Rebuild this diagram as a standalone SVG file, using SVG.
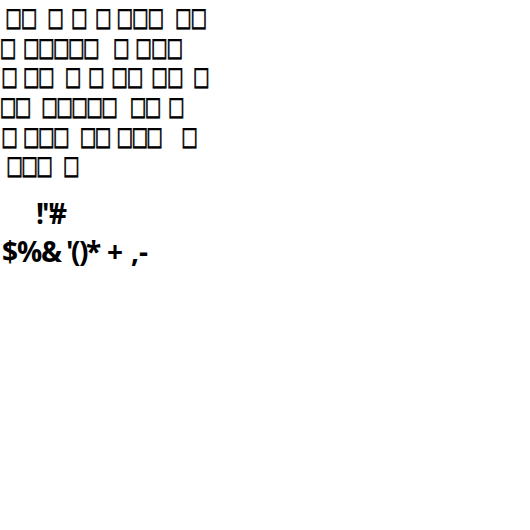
<svg xmlns="http://www.w3.org/2000/svg" width="530" height="530" viewBox="0 0 530 530">
<style>
.t{font-family:"DejaVu Sans",sans-serif;font-size:26px;fill:#000;stroke:#000;stroke-width:0.8;white-space:pre}
.b{font-family:"Open Sans","Noto Sans",sans-serif;font-weight:bold;font-size:28px;fill:#000}
</style>
<rect width="530" height="530" fill="#fff"/>
<g id="para" transform="scale(0.67,1)">
<text class="t" y="26.5" x="8 30.8 56 70.7 96 106.1 131 141.9 167 174 197.1 220.2 246 261.3 284.4">□□ □ □ □ □□□ □□</text>
<text class="t" y="56" x="-0.4 24 34.4 56.8 79.2 101.6 124 150 168.7 194 202 225.4 248.6">□ □□□□□ □ □□□</text>
<text class="t" y="85.5" x="2 26 34.4 56.8 82 96.6 121 131.4 156 166.2 189.3 215 225.9 249.3 275 288.1">□ □□ □ □ □□ □□ □</text>
<text class="t" y="115" x="-0.4 22 47 61.7 84.1 106.5 128.9 151.3 177 193.7 216.1 242 250.8">□□ □□□□□ □□ □</text>
<text class="t" y="145" x="2 26 34.4 56.8 79.2 105 119 141.4 165 173.7 196.1 218.4 244 270.7">□ □□□ □□ □□□ □</text>
<text class="t" y="174" x="9.5 31.9 54.3 80 94.1">□□□ □</text>
</g>
<g id="title">
<text class="b" y="224" x="36 42 49">!"#</text>
<text class="b" y="262" x="2 17 41 66 71 79 86 107 131 139">$%&amp;'()*+,-</text>
</g>
</svg>
